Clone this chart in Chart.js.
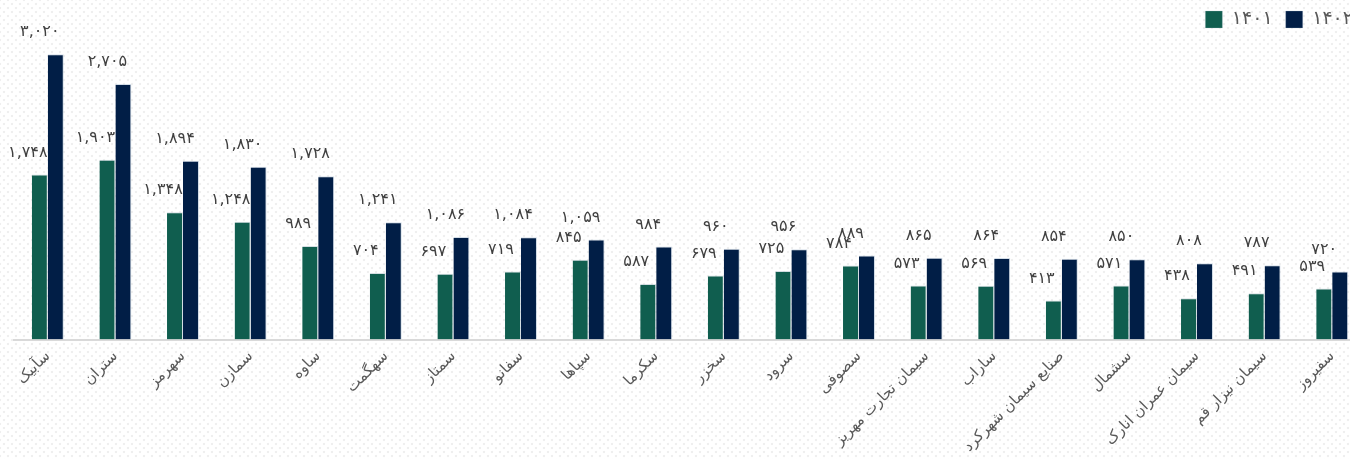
<!DOCTYPE html>
<html lang="fa">
<head>
<meta charset="utf-8">
<script src="https://cdn.jsdelivr.net/npm/chart.js@4.4.0/dist/chart.umd.min.js"></script>
<style>
  html, body { margin: 0; padding: 0; overflow: hidden; }
  body {
    width: 1350px; height: 459px;
    background-color: #fff;
    background-image:
      radial-gradient(#efefef 1.2px, transparent 1.6px),
      radial-gradient(#efefef 1.2px, transparent 1.6px);
    background-size: 8px 8px;
    background-position: 0 0, 4px 4px;
  }
  #wrap { position: absolute; left: 0; top: 0; width: 1366px; height: 459px; }
</style>
</head>
<body>
<div id="wrap"><canvas id="chart"></canvas></div>
<script>
// نمادها
const categories = ['سآبیک', 'ستران', 'سهرمز', 'سمازن', 'ساوه', 'سهگمت', 'سمتاز', 'سفانو', 'سپاها', 'سکرما',
  'سخزر', 'سرود', 'سصوفی', 'سیمان تجارت مهریز', 'ساراب', 'صنایع سیمان شهرکرد', 'سشمال', 'سیمان عمران انارک', 'سیمان نیزار قم', 'سفیروز'];
const seriesNames = ['۱۴۰۱', '۱۴۰۲'];
const values1401 = [1748, 1903, 1348, 1248, 989, 704, 697, 719, 845, 587, 679, 725, 784, 573, 569, 413, 571, 438, 491, 539];
const values1402 = [3020, 2705, 1894, 1830, 1728, 1241, 1086, 1084, 1059, 984, 960, 956, 889, 865, 864, 854, 850, 808, 787, 720];

const FONT = "'DejaVu Sans', 'Noto Sans', sans-serif";
const TEXT = '#595959';

// ارقام فارسی
const toFa = n => n.toLocaleString('en-US').replace(/\d/g, d => '۰۱۲۳۴۵۶۷۸۹'[d]);

// برچسب مقادیر بالای ستون‌ها
const valueLabels = {
  id: 'valueLabels',
  afterDatasetsDraw(chart) {
    const ctx = chart.ctx;
    ctx.save();
    ctx.font = '16px ' + FONT;
    ctx.fillStyle = '#404040';
    ctx.textAlign = 'center';
    ctx.textBaseline = 'middle';
    chart.data.datasets.forEach((ds, i) => {
      const dx = i === 0 ? -12 : -16;
      chart.getDatasetMeta(i).data.forEach((bar, j) => {
        ctx.fillText(toFa(ds.data[j]), bar.x + dx, bar.y - 22);
      });
    });
    ctx.restore();
  }
};

new Chart(document.getElementById('chart'), {
  type: 'bar',
  data: {
    labels: categories,
    datasets: [
      { label: seriesNames[0], data: values1401, backgroundColor: '#105E4F', borderColor: 'rgba(170,190,200,0.5)', borderWidth: { top: 1, left: 0, right: 1, bottom: 0 } },
      { label: seriesNames[1], data: values1402, backgroundColor: '#011E46', borderColor: 'rgba(170,190,210,0.5)', borderWidth: { top: 1, left: 0, right: 1, bottom: 0 } }
    ]
  },
  options: {
    responsive: true,
    maintainAspectRatio: false,
    animation: false,
    layout: { padding: { left: 14, right: 0, top: -3, bottom: 0 } },
    datasets: { bar: { categoryPercentage: 0.473, barPercentage: 1 } },
    plugins: {
      legend: {
        position: 'top',
        align: 'end',
        labels: {
          boxWidth: 17, boxHeight: 17, padding: 13,
          color: TEXT,
          font: { family: FONT, size: 19, lineHeight: 1 }
        }
      },
      tooltip: { enabled: false }
    },
    scales: {
      x: {
        grid: { display: false, drawTicks: false },
        border: { color: '#d9d9d9', width: 2 },
        ticks: {
          color: TEXT,
          font: { family: FONT, size: 15 },
          minRotation: 45, maxRotation: 45,
          autoSkip: false,
          padding: 8
        },
        afterFit: scale => { scale.height = 119.5; }
      },
      y: {
        display: false,
        min: 0,
        max: 3182
      }
    }
  },
  plugins: [valueLabels]
});
</script>
</body>
</html>
